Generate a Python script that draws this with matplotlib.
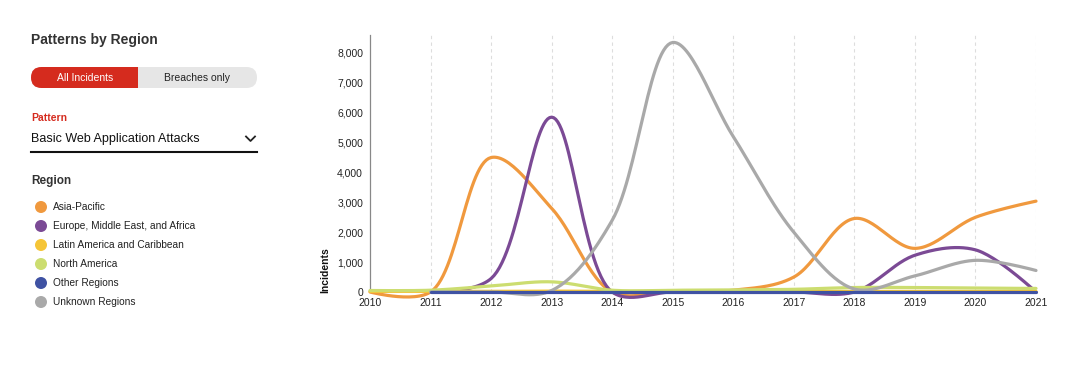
import numpy as np
import matplotlib.pyplot as plt
from matplotlib.patches import FancyBboxPatch, Rectangle, Circle

plt.rcParams['font.family'] = ['Liberation Sans', 'DejaVu Sans']

years = [2010, 2011, 2012, 2013, 2014, 2015, 2016, 2017, 2018, 2019, 2020, 2021]
regions = ['Asia-Pacific', 'Europe, Middle East, and Africa', 'Latin America and Caribbean',
           'North America', 'Other Regions', 'Unknown Regions']
colors = ['#F0993E', '#7B4A95', '#F5C537', '#CCDD70', '#3F52A3', '#A9A9A9']

asia_pacific = [0, 0, 4500, 2800, 0, 40, 60, 500, 2460, 1460, 2500, 3040]
emea = [None, 0, 450, 5850, 0, 0, 0, 0, 0, 1230, 1410, 0]
latin_america = [20, 20, 20, 30, 20, 20, 20, 20, 20, 20, 20, 20]
north_america = [50, 60, 200, 340, 60, 60, 70, 90, 150, 150, 130, 120]
other_regions = [None, 0, 0, 0, 0, 0, 0, 0, 0, 0, 0, 0]
unknown = [None, 0, 0, 50, 2400, 8350, 5200, 2000, 100, 540, 1060, 720]

series = [asia_pacific, emea, latin_america, north_america, other_regions, unknown]


def catmull_rom(pts, alpha=0.5, n=30):
    """Centripetal Catmull-Rom through pixel points (same as d3.curveCatmullRom)."""
    pts = np.asarray(pts, float)
    out = [pts[:1]]
    k = len(pts)
    for i in range(k - 1):
        p1, p2 = pts[i], pts[i + 1]
        p0 = pts[i - 1] if i > 0 else None
        p3 = pts[i + 2] if i + 2 < k else None
        l12 = np.hypot(*(p2 - p1))
        c1, c2 = p1.copy(), p2.copy()
        l12_a, l12_2a = l12 ** alpha, l12 ** (2 * alpha)
        if p0 is not None:
            l01 = np.hypot(*(p1 - p0))
            l01_a, l01_2a = l01 ** alpha, l01 ** (2 * alpha)
            if l01_a > 1e-12:
                a = 2 * l01_2a + 3 * l01_a * l12_a + l12_2a
                m = 3 * l01_a * (l01_a + l12_a)
                c1 = (p1 * a - p0 * l12_2a + p2 * l01_2a) / m
        if p3 is not None:
            l23 = np.hypot(*(p3 - p2))
            l23_a, l23_2a = l23 ** alpha, l23 ** (2 * alpha)
            if l23_a > 1e-12:
                b = 2 * l23_2a + 3 * l23_a * l12_a + l12_2a
                m = 3 * l23_a * (l23_a + l12_a)
                c2 = (p2 * b + p1 * l23_2a - p3 * l12_2a) / m
        t = np.linspace(0, 1, n)[1:, None]
        seg = ((1 - t) ** 3 * p1 + 3 * (1 - t) ** 2 * t * c1
               + 3 * (1 - t) * t ** 2 * c2 + t ** 3 * p2)
        out.append(seg)
    return np.vstack(out)


fig = plt.figure(figsize=(10.8, 3.66), dpi=100)

# chart
ax = fig.add_axes([370 / 1080, 1 - 292 / 366, 666 / 1080, 257 / 366])
ax.set_xlim(2010, 2021)
ax.set_ylim(0, 8600)

for name, vals, col in zip(regions, series, colors):
    pts = [(yr, v) for yr, v in zip(years, vals) if v is not None]
    px = ax.transData.transform(pts)
    curve = ax.transData.inverted().transform(catmull_rom(px))
    z = 4 if name == 'Other Regions' else 3
    ax.plot(curve[:, 0], curve[:, 1], color=col, lw=2.3, solid_capstyle='round',
            clip_on=False, zorder=z)

ax.set_xticks(years)
ax.set_xticklabels([str(y) for y in years])
ax.set_yticks(range(0, 8001, 1000))
ax.set_yticklabels([f'{v:,}' for v in range(0, 8001, 1000)])
ax.tick_params(length=0, labelsize=7.5, colors='#222222')
ax.tick_params(axis='x', pad=4)
ax.tick_params(axis='y', pad=5)
for yr in years[1:]:
    ax.axvline(yr, color='#DDDDDD', lw=0.8, ls=(0, (3, 3)), zorder=1)
for s in ['top', 'right', 'bottom']:
    ax.spines[s].set_visible(False)
ax.spines['left'].set_color('#888888')
ax.spines['left'].set_linewidth(0.9)
fig.text(325 / 1080, 1 - 293 / 366, 'Incidents', rotation=90, fontsize=7.5,
         fontweight='bold', color='#111111', ha='center', va='bottom')

# left panel, pixel coordinates
pan = fig.add_axes([0, 0, 1, 1], zorder=-1)
pan.set_xlim(0, 1080)
pan.set_ylim(366, 0)
pan.axis('off')

pan.text(31, 40, 'Patterns by Region', fontsize=10, fontweight='bold', color='#333333', va='center')

pan.add_patch(FancyBboxPatch((31, 67), 226, 21, boxstyle='round,pad=0,rounding_size=10.5',
                             fc='#E6E6E6', ec='none'))
pan.add_patch(FancyBboxPatch((31, 67), 107, 21, boxstyle='round,pad=0,rounding_size=10.5',
                             fc='#D52B1E', ec='none'))
pan.add_patch(Rectangle((118, 67), 20, 21, fc='#D52B1E', ec='none'))
pan.text(85, 78, 'All Incidents', fontsize=7.5, color='white', ha='center', va='center')
pan.text(197, 78, 'Breaches only', fontsize=7.5, color='#222222', ha='center', va='center')

pan.text(31, 118, 'Pattern', fontsize=7.5, fontweight='bold', color='#D52B1E', va='center')
pan.text(31, 139, 'Basic Web Application Attacks', fontsize=9, color='#111111', va='center')
pan.plot([246, 250.5, 255], [136.5, 141, 136.5], color='#222222', lw=1.3)
pan.plot([31, 257], [152, 152], color='#111111', lw=1.5)

pan.text(31, 181, 'Region', fontsize=8.5, fontweight='bold', color='#333333', va='center')
for i, (name, col) in enumerate(zip(regions, colors)):
    yy = 207 + i * 19
    pan.add_patch(Circle((41, yy), 6, fc=col, ec='none'))
    pan.text(53, yy, name, fontsize=7.3, color='#222222', va='center')

plt.savefig('out.png', dpi=100)
